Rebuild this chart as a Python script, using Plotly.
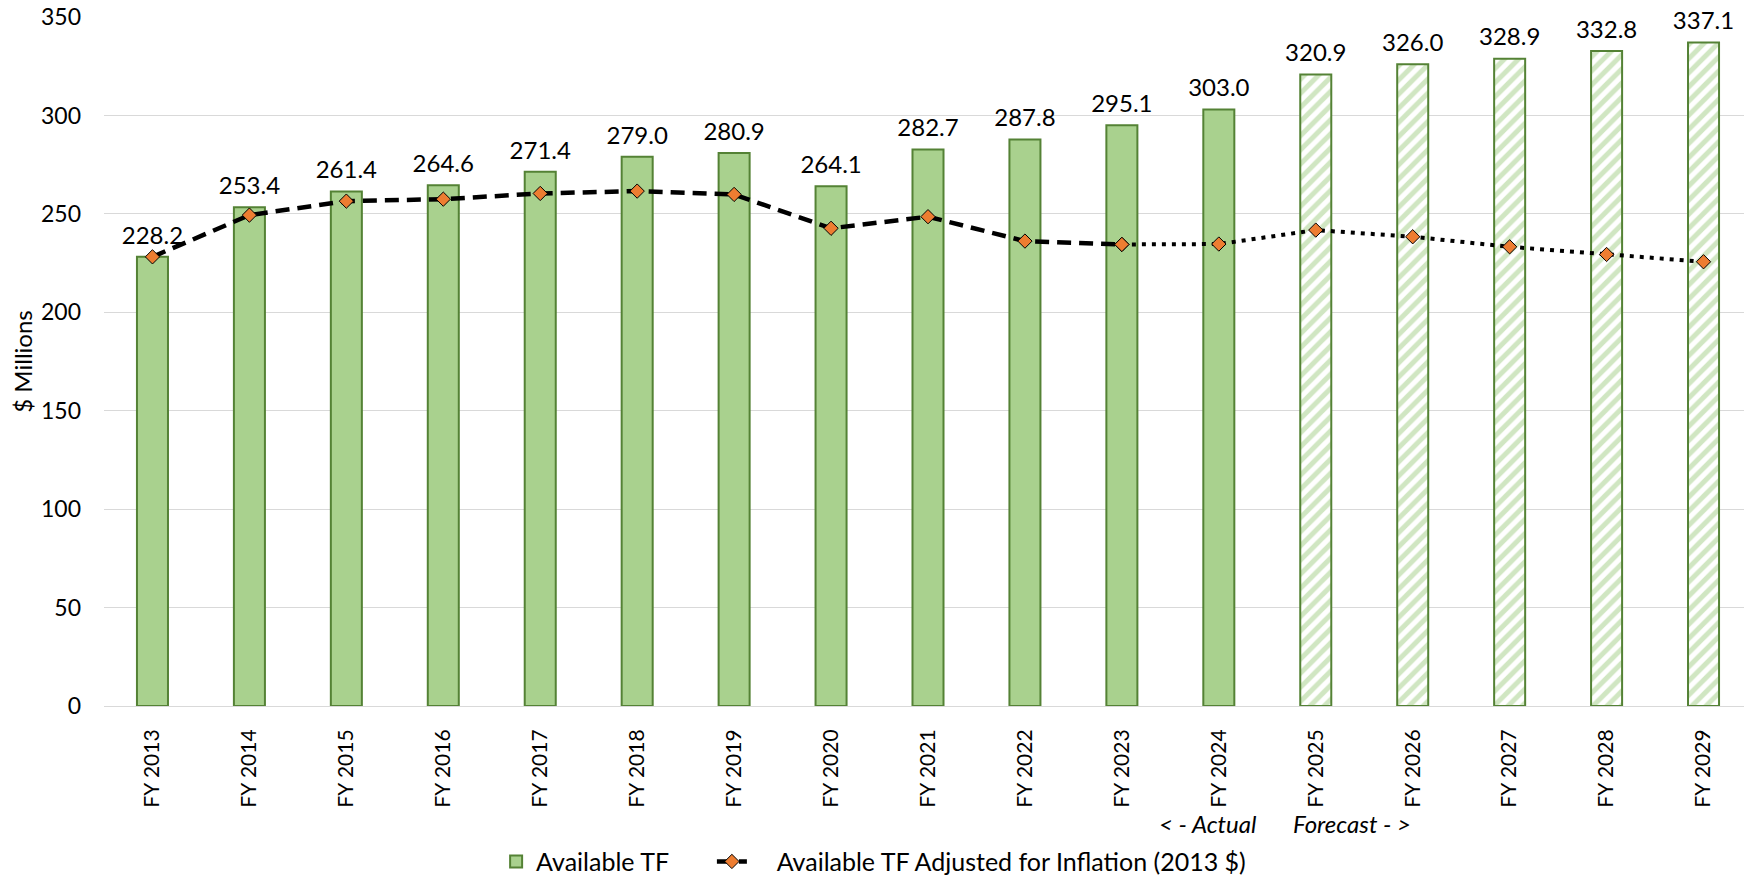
import plotly.graph_objects as go

categories = ["FY 2013", "FY 2014", "FY 2015", "FY 2016", "FY 2017", "FY 2018", "FY 2019",
              "FY 2020", "FY 2021", "FY 2022", "FY 2023", "FY 2024", "FY 2025", "FY 2026",
              "FY 2027", "FY 2028", "FY 2029"]
available_tf = [228.2, 253.4, 261.4, 264.6, 271.4, 279.0, 280.9, 264.1, 282.7, 287.8,
                295.1, 303.0, 320.9, 326.0, 328.9, 332.8, 337.1]
n_actual = 12  # FY 2013 - FY 2024 actual, rest forecast
adjusted_tf = [228.2, 249.4, 256.5, 257.5, 260.4, 261.6, 259.9, 242.7, 248.6, 236.2,
               234.5, 234.7, 241.8, 238.4, 233.3, 229.4, 225.7]

FONT = "Lato"
GREEN = "#a9d18e"
DARK_GREEN = "#548235"
ORANGE = "#ed7d31"
NBSP = "\u00a0"

fig = go.Figure()

fig.add_trace(go.Bar(
    x=categories[:n_actual], y=available_tf[:n_actual],
    name="Available TF" + NBSP * 6,
    marker=dict(color=GREEN, line=dict(color=DARK_GREEN, width=2)),
))
fig.add_trace(go.Bar(
    x=categories[n_actual:], y=available_tf[n_actual:],
    name="Available TF (forecast)", showlegend=False,
    marker=dict(color="white", line=dict(color=DARK_GREEN, width=2),
                pattern=dict(shape="/", fgcolor="#a2cd85", bgcolor="white", size=10,
                             solidity=0.5)),
))

split = 10  # dashed through FY 2023, dotted afterwards
fig.add_trace(go.Scatter(
    x=categories[:split + 1], y=adjusted_tf[:split + 1],
    mode="lines+markers",
    name=NBSP * 4 + "Available TF Adjusted for Inflation (2013 $)",
    line=dict(color="black", width=4.5, dash="14px,8px"),
    marker=dict(symbol="diamond", size=11, color=ORANGE, line=dict(color="black", width=1)),
    cliponaxis=False,
))
fig.add_trace(go.Scatter(
    x=categories[split:], y=adjusted_tf[split:],
    mode="lines", showlegend=False,
    line=dict(color="black", width=4, dash="4px,6px"),
    hoverinfo="skip",
))
fig.add_trace(go.Scatter(
    x=categories[split:], y=adjusted_tf[split:],
    mode="markers", showlegend=False,
    marker=dict(symbol="diamond", size=11, color=ORANGE, line=dict(color="black", width=1)),
))

# data labels above the bars
fig.add_trace(go.Scatter(
    x=categories, y=available_tf,
    mode="markers+text", showlegend=False, hoverinfo="skip",
    text=[f"{v:.1f}" for v in available_tf],
    textposition="top center",
    textfont=dict(family=FONT, size=24, color="black"),
    marker=dict(size=10, color="rgba(0,0,0,0)"),
    cliponaxis=False,
))

fig.add_annotation(x=11.5, y=-0.171, xref="x", yref="paper", text="<i>< - Actual</i>",
                   showarrow=False, xanchor="right", yanchor="middle", xshift=-8,
                   font=dict(family=FONT, size=24, color="black"))
fig.add_annotation(x=11.5, y=-0.171, xref="x", yref="paper", text="<i>Forecast - ></i>",
                   showarrow=False, xanchor="left", yanchor="middle", xshift=24,
                   font=dict(family=FONT, size=24, color="black"))

# the page body adds an 8px offset; the figure is sized/margined to compensate
fig.update_layout(
    width=1744, height=870,
    margin=dict(l=96, r=0, t=9, b=172, autoexpand=False),
    paper_bgcolor="white", plot_bgcolor="white",
    font=dict(family=FONT, size=24, color="black"),
    barmode="overlay",
    bargap=0.68,
    showlegend=True,
    legend=dict(orientation="h", x=0.467, xanchor="center", y=-0.226, yanchor="middle",
                font=dict(family=FONT, size=25, color="black"),
                traceorder="normal"),
    xaxis=dict(
        range=[-0.5, 16.5],
        tickangle=-90, tickfont=dict(family=FONT, size=21, color="black"),
        showgrid=False, showline=True, linecolor="#d9d9d9", linewidth=1,
        ticks="", ticklabelstandoff=14, automargin=False,
    ),
    yaxis=dict(
        range=[0, 350.05], tickvals=[0, 50, 100, 150, 200, 250, 300, 350],
        tickfont=dict(family=FONT, size=23, color="black"),
        ticklabeloverflow="allow",
        showgrid=True, gridcolor="#d9d9d9", gridwidth=1,
        zeroline=True, zerolinecolor="#d9d9d9", zerolinewidth=1,
        ticks="", ticklabelstandoff=22, automargin=False,
        title=dict(text="$ Millions", font=dict(family=FONT, size=24, color="black"), standoff=13),
    ),
)

fig.write_html("out.html")
